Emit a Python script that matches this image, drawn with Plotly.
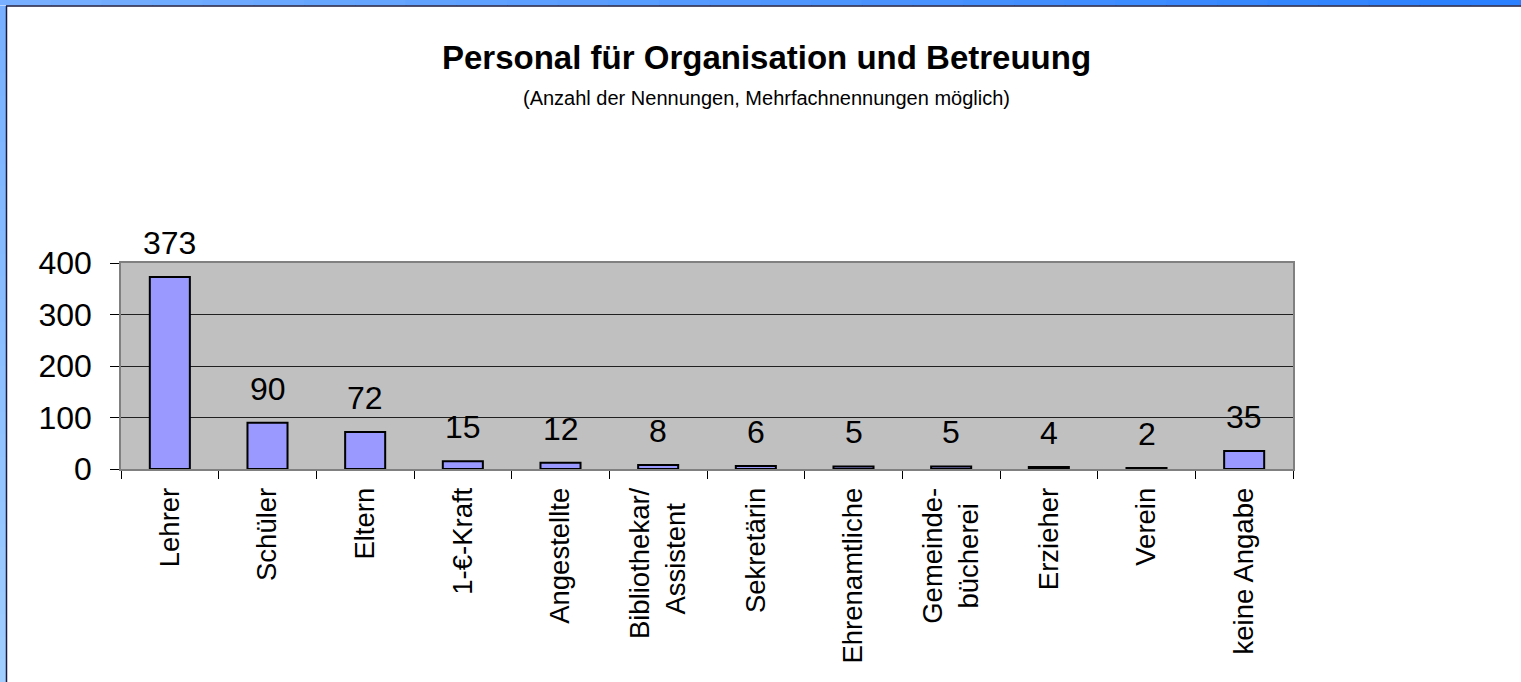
import plotly.graph_objects as go

NB = "\u00a0"
categories = ["Lehrer", "Schüler", "Eltern", "1-€-Kraft", "Angestellte",
              "Bibliothekar/<br>Assistent" + NB * 2, "Sekretärin", "Ehrenamtliche",
              "Gemeinde-<br>bücherei" + NB * 2, "Erzieher", "Verein", "keine Angabe"]
values = [373, 90, 72, 15, 12, 8, 6, 5, 5, 4, 2, 35]
y_ticks = [0, 100, 200, 300, 400]

title_text = "<b>Personal für Organisation und Betreuung</b>"
subtitle_text = "(Anzahl der Nennungen, Mehrfachnennungen möglich)"

FONT = "Liberation Sans, Arial, sans-serif"
W, H = 1521, 682
L, R, T, B = 121, 1293, 263, 469
PW, PH = R - L, B - T


def px(x):
    return (x - L) / PW


def py(y):
    return (B - y) / PH


fig = go.Figure()
fig.add_trace(go.Bar(
    x=categories, y=values,
    marker=dict(color="#9999ff", line=dict(color="black", width=2)),
    hoverinfo="x+y",
))

for c, v in zip(categories, values):
    fig.add_annotation(x=c, y=v, text=str(v), showarrow=False,
                       yanchor="bottom", yshift=14,
                       font=dict(family=FONT, size=32, color="black"))

fig.add_annotation(xref="paper", yref="paper", x=px(766), y=py(57),
                   text=title_text, showarrow=False, yanchor="middle",
                   font=dict(family=FONT, size=33, color="black"))
fig.add_annotation(xref="paper", yref="paper", x=px(766), y=py(98),
                   text=subtitle_text, showarrow=False, yanchor="middle",
                   font=dict(family=FONT, size=20, color="black"))

# decorative frame (top and left strips)
shapes = []
n = 30
for i in range(n):
    t = i / (n - 1)
    r = int(0x78 + (0x2a - 0x78) * t)
    g = int(0xb0 + (0x80 - 0xb0) * t)
    col = f"rgb({r},{g},255)"
    shapes.append(dict(type="rect", xref="paper", yref="paper",
                       x0=px(W * i / n), x1=px(min(W, W * (i + 1) / n + 1)),
                       y0=py(0), y1=py(5.5), fillcolor=col, line_width=0, layer="above"))
for i in range(n):
    t = i / (n - 1)
    r = int(0x78 + (0xa0 - 0x78) * t)
    g = int(0xb0 + (0xce - 0xb0) * t)
    col = f"rgb({r},{g},255)"
    shapes.append(dict(type="rect", xref="paper", yref="paper",
                       x0=px(0), x1=px(6),
                       y0=py(6 + (H - 6) * i / n), y1=py(min(H, 6 + (H - 6) * (i + 1) / n + 1)),
                       fillcolor=col, line_width=0, layer="above"))
shapes.append(dict(type="line", xref="paper", yref="paper",
                   x0=px(6), x1=px(W), y0=py(6), y1=py(6),
                   line=dict(color="#1a1a40", width=1.5), layer="above"))
shapes.append(dict(type="line", xref="paper", yref="paper",
                   x0=px(6.5), x1=px(6.5), y0=py(6), y1=py(H),
                   line=dict(color="#1a1a40", width=1.5), layer="above"))

fig.update_layout(
    width=W, height=H,
    margin=dict(l=L, r=W - R, t=T, b=H - B, pad=0),
    paper_bgcolor="white", plot_bgcolor="#c0c0c0",
    showlegend=False, bargap=0.59,
    font=dict(family=FONT, color="black"),
    shapes=shapes,
)
fig.update_xaxes(
    type="category", showgrid=False, showline=True, linecolor="#808080", linewidth=1.5,
    mirror=True, ticks="outside", tickson="boundaries", ticklen=8, tickcolor="black",
    tickwidth=1, tickangle=-90, tickfont=dict(family=FONT, size=27.5, color="black"),
    ticklabelstandoff=6,
)
fig.update_yaxes(
    range=[0, 400], tickvals=y_ticks, showgrid=True, gridcolor="#202020", gridwidth=1,
    zeroline=False, showline=True, linecolor="#808080", linewidth=1.5, mirror=True,
    ticks="outside", ticklen=9, tickcolor="black", tickwidth=1,
    tickfont=dict(family=FONT, size=32, color="black"), ticklabelstandoff=12,
)

fig.write_html("out.html", config={"displayModeBar": False},
               post_script="document.body.style.margin='0';"
                           "document.body.style.overflow='hidden';")
